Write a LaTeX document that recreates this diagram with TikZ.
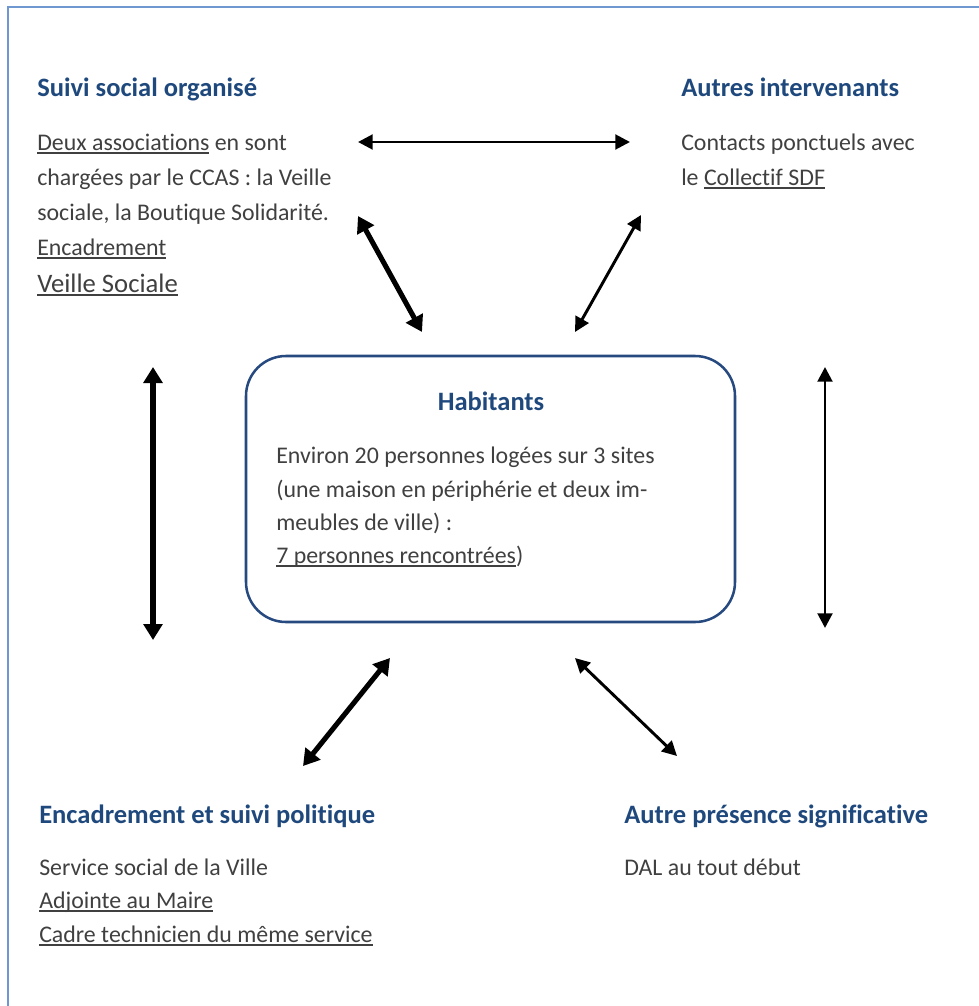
\documentclass[tikz,border=0pt]{standalone}
\usepackage{fontspec}
\setmainfont{Carlito}[Ligatures=NoCommon]
\usetikzlibrary{arrows.meta}
\definecolor{txtgray}{RGB}{64,64,64}
\definecolor{headblue}{RGB}{31,73,125}
\definecolor{boxblue}{RGB}{38,74,128}
\definecolor{framebl}{RGB}{112,152,208}
\newcommand\ulx[1]{\setbox0\hbox{#1}\rlap{\color{txtgray}\rule[-2.8pt]{\wd0}{1.1pt}}\box0\relax}
\tikzset{
  body/.style={anchor=base west, inner sep=0pt, text=txtgray, font=\fontsize{17.9pt}{22pt}\selectfont},
  head/.style={anchor=base west, inner sep=0pt, text=headblue, font=\fontsize{19.9pt}{24pt}\selectfont\bfseries},
  thickarr/.style={line width=3.8pt, {Triangle[length=12pt,width=14pt]}-{Triangle[length=12pt,width=14pt]}},
  midarr/.style={line width=2.2pt, {Triangle[length=11pt,width=11pt]}-{Triangle[length=11pt,width=11pt]}}
}
\begin{document}
\begin{tikzpicture}[x=0.75pt,y=-0.75pt]
\useasboundingbox (0,0) rectangle (978,1006);
% frame
\draw[framebl, line width=1.6pt] (8,1010) -- (8,7) -- (985,7);
% top-left block
\node[head] (h1) at (37,97) {Suivi social organisé};
\node[body] (t1a) at (37,150) {\ulx{Deux associations} en sont};
\node[body] (t1b) at (37,185) {chargées par le CCAS : la Veille};
\node[body] (t1c) at (37,220) {sociale, la Boutique Solidarité.};
\node[body] (t1d) at (37,255) {\ulx{Encadrement}};
\node[body, font=\fontsize{20pt}{24pt}\selectfont] (t1e) at (37,292) {\ulx{Veille Sociale}};
% top-right block
\node[head] (h2) at (681,97) {Autres intervenants};
\node[body] (t2a) at (681,150) {Contacts ponctuels avec};
\node[body] (t2b) at (681,185) {le \ulx{Collectif SDF}};
% center box
\node[draw=boxblue, line width=1.9pt, rounded corners=30pt, minimum width=489*0.75pt, minimum height=266*0.75pt, inner sep=0pt] (hab) at (490.5,489) {};
\node[head, anchor=base] (h3) at (491,410) {Habitants};
\node[body] (t3a) at (276,463) {Environ 20 personnes logées sur 3 sites};
\node[body] (t3b) at (276,497) {(une maison en périphérie et deux im-};
\node[body] (t3c) at (276,530) {meubles de ville) :};
\node[body] (t3d) at (276,563) {\ulx{7 personnes rencontrées})};
% bottom-left block
\node[head] (h4) at (39,823) {Encadrement et suivi politique};
\node[body] (t4a) at (39,875) {Service social de la Ville};
\node[body] (t4b) at (39,908) {\ulx{Adjointe au Maire}};
\node[body] (t4c) at (39,942) {\ulx{Cadre technicien du même service}};
% bottom-right block
\node[head] (h5) at (624,823) {Autre présence significative};
\node[body] (t5a) at (624,875) {DAL au tout début};
% arrow end points
\coordinate (a1) at (358,142); \coordinate (a2) at (630,142);
\coordinate (b1) at (358,216); \coordinate (b2) at (422,332);
\coordinate (c1) at (641,215); \coordinate (c2) at (575,332);
\coordinate (d1) at (153,367); \coordinate (d2) at (153,640);
\coordinate (e1) at (825,367); \coordinate (e2) at (825,628);
\coordinate (f1) at (390,658); \coordinate (f2) at (303,766);
\coordinate (g1) at (575,658); \coordinate (g2) at (677,756);
\draw[midarr] (a1) -- (a2);
\draw[thickarr] (b1) -- (b2);
\draw[midarr] (c1) -- (c2);
\draw[thickarr] (d1) -- (d2);
\draw[midarr] (e1) -- (e2);
\draw[thickarr] (f1) -- (f2);
\draw[midarr] (g1) -- (g2);
\end{tikzpicture}
\end{document}
